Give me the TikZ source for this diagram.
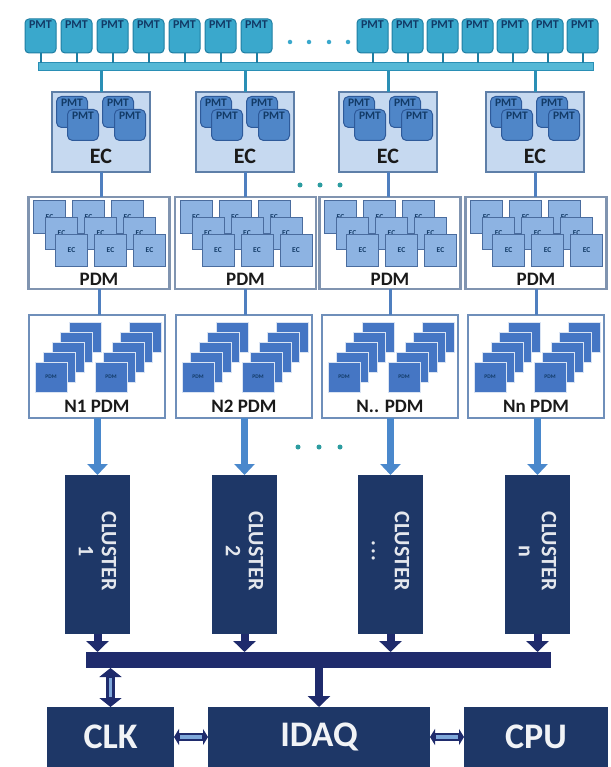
\documentclass[tikz,border=0pt]{standalone}
\usepackage{fontspec}
\setmainfont{Carlito}
\usetikzlibrary{arrows.meta,calc}
\definecolor{pmtfill}{HTML}{3AA8CC}
\definecolor{pmtedge}{HTML}{1E7EA3}
\definecolor{pmttext}{HTML}{123A66}
\definecolor{busone}{HTML}{55B8D6}
\definecolor{busoneedge}{HTML}{2A8FB5}
\definecolor{ecfill}{HTML}{C6D9F0}
\definecolor{ecedge}{HTML}{5E7FA8}
\definecolor{pmtsqfill}{HTML}{4F86C8}
\definecolor{pmtsqedge}{HTML}{2E5A9A}
\definecolor{ecsqfill}{HTML}{8DB3E2}
\definecolor{ecsqedge}{HTML}{4A6C9E}
\definecolor{pdmedge}{HTML}{8094B0}
\definecolor{npdmedge}{HTML}{6F8FBA}
\definecolor{pdmsqfill}{HTML}{4576C4}
\definecolor{connblue}{HTML}{4F7FBF}
\definecolor{arrblue}{HTML}{4A88CC}
\definecolor{navybox}{HTML}{1E3767}
\definecolor{navybus}{HTML}{1F2B6C}
\definecolor{lightbar}{HTML}{7FA8DA}
\definecolor{dotteal}{HTML}{2C9CA0}
\definecolor{labeltext}{HTML}{1A1A1A}
\begin{document}
\begin{tikzpicture}[x=1pt,y=-1pt,
  every node/.style={inner sep=0pt,outer sep=0pt},
  pmttop/.style={draw=pmtedge,fill=pmtfill,line width=1pt,rounded corners=4pt,
     minimum width=31pt,text height=8pt,text depth=22pt,inner ysep=2pt,
     font=\fontsize{12}{12}\selectfont\bfseries,text=pmttext},
  stem/.style={draw=pmtedge,line width=2pt},
  busonestyle/.style={draw=busoneedge,fill=busone,line width=1pt,minimum width=555pt,minimum height=8pt},
  drop/.style={draw=busoneedge,line width=3pt},
  ecbox/.style={draw=ecedge,fill=ecfill,line width=1.8pt,minimum width=98pt,minimum height=80pt},
  pmtsq/.style={draw=pmtsqedge,fill=pmtsqfill,line width=1pt,rounded corners=5pt,minimum width=31pt,
     text height=8pt,text depth=19pt,inner ysep=2pt,font=\fontsize{11.5}{11.5}\selectfont\bfseries,text=pmttext},
  biglabel/.style={font=\fontsize{22}{22}\selectfont\bfseries,text=labeltext},
  conn/.style={draw=connblue,line width=3pt},
  pdmbox/.style={draw=pdmedge,fill=white,line width=2.5pt,minimum width=141pt,minimum height=92pt},
  ecsq/.style={draw=ecsqedge,fill=ecsqfill,line width=1pt,minimum size=32pt,
     font=\fontsize{7.5}{7.5}\selectfont\bfseries,text=pmttext},
  midlabel/.style={font=\fontsize{19}{19}\selectfont\bfseries,text=labeltext},
  npdmbox/.style={draw=npdmedge,fill=white,line width=1.6pt,minimum width=136pt,minimum height=103pt},
  pdmsq/.style={draw=white!80!pdmsqfill,fill=pdmsqfill,line width=0.8pt,minimum width=32pt,minimum height=30pt,
     font=\fontsize{5.5}{5.5}\selectfont\bfseries,text=pmttext},
  bluearrow/.style={draw=arrblue,line width=7pt,-{Triangle[width=20pt,length=11pt]}},
  dotmark/.style={circle,fill=dotteal,minimum size=5pt},
  clbox/.style={fill=navybox,minimum width=65pt,minimum height=159pt},
  cltext/.style={rotate=-90,align=center,font=\fontsize{22}{23}\selectfont\bfseries,text=white!88!navybox},
  navyarrow/.style={draw=navybus,line width=8pt,-{Triangle[width=22pt,length=11pt]}},
  bustwo/.style={fill=navybus,minimum width=465pt,minimum height=16pt},
  bottombox/.style={fill=navybox,minimum height=60pt,font=\fontsize{36}{36}\selectfont\bfseries,text=white!94!navybox},
]
\fill[white] (0,0) rectangle (610,767);
\useasboundingbox (0,0) rectangle (610,767);

% ---- top row of PMTs and bus
\foreach \i in {0,...,6} {
  \node[pmttop] (pL\i) at ({40.5+36*\i},36) {PMT};
  \node[pmttop] (pR\i) at ({372.5+35*\i},36) {PMT};
}
\node[busonestyle] (bus1) at (315.5,67) {};
\foreach \i in {0,...,6} {
  \draw[stem] (pL\i.south) -- (pL\i.south |- bus1.north);
  \draw[stem] (pR\i.south) -- (pR\i.south |- bus1.north);
}
\foreach \x [count=\n] in {290,309,329,348}
  \node[dotmark,minimum size=4.5pt,fill=pmtfill] (td\n) at (\x,42) {};

% ---- EC boxes
\foreach \cx [count=\k] in {101,245,388,535} {
  \node[ecbox] (ec\k) at (\cx,132) {};
  \begin{scope}[shift={(\cx-49,92)}]
    \node[pmtsq] (ec\k pa) at (20,20) {PMT};
    \node[pmtsq] (ec\k pb) at (31,33) {PMT};
    \node[pmtsq] (ec\k pc) at (66,20) {PMT};
    \node[pmtsq] (ec\k pd) at (78,33) {PMT};
  \end{scope}
  \node[biglabel] (ec\k l) at (\cx,156) {EC};
  \draw[drop] (ec\k.north |- bus1.south) -- (ec\k.north);
}
\foreach \x [count=\n] in {300,320,340}
  \node[dotmark] (da\n) at (\x,185) {};

% ---- PDM boxes
\foreach \cx [count=\k] in {99,245.5,390,536} {
  \node[pdmbox] (pdm\k) at (\cx,243) {};
  \begin{scope}[shift={(\cx-70.5,197)}]
    \foreach \r/\dx/\dy in {0/5/4,1/17/20,2/27/37} {
      \foreach \c in {0,1,2} {
        \node[ecsq] (pdm\k s\r\c) at ({\dx+39*\c+16},{\dy+16}) {EC};
      }
    }
  \end{scope}
  \node[midlabel] (pdm\k l) at (\cx,279) {PDM};
  \draw[conn] (ec\k.south) -- (ec\k.south |- pdm\k.north);
}

% ---- N PDM boxes
\foreach \cx [count=\k] in {97,244,390,536} {
  \node[npdmbox] (npdm\k) at (\cx,366.5) {};
  \begin{scope}[shift={(\cx-68,315)}]
    \foreach \j in {4,3,2,1,0} {
      \node[pdmsq] (npdm\k a\j) at ({22+8.5*\j},{62-10*\j}) {PDM};
      \node[pdmsq] (npdm\k b\j) at ({82+8.5*\j},{62-10*\j}) {PDM};
    }
  \end{scope}
  \draw[conn] (pdm\k.south) -- (pdm\k.south |- npdm\k.north);
}
\node[midlabel] (npdm1l) at (97,406) {N1 PDM};
\node[midlabel] (npdm2l) at (244,406) {N2 PDM};
\node[midlabel] (npdm3l) at (390,406) {N.. PDM};
\node[midlabel] (npdm4l) at (536,406) {Nn PDM};

\foreach \x [count=\n] in {298,319,340}
  \node[dotmark] (db\n) at (\x,447) {};

% ---- clusters
\node[clbox] (cl1) at (97.5,554.5) {};
\node[clbox] (cl2) at (244.5,554.5) {};
\node[clbox] (cl3) at (390.5,554.5) {};
\node[clbox] (cl4) at (537.5,554.5) {};
\node[cltext] (cl1t) at (97.5,551) {CLUSTER\\1};
\node[cltext] (cl2t) at (244.5,551) {CLUSTER\\2};
\node[cltext] (cl3t) at (390.5,551) {CLUSTER\\.\hspace{2pt}.\hspace{2pt}.};
\node[cltext] (cl4t) at (537.5,551) {CLUSTER\\n};

% ---- bus 2 and bottom boxes
\node[bustwo] (bus2) at (318.5,660) {};
\node[bottombox,minimum width=127pt] (clk) at (110.5,737) {CLK};
\node[bottombox,minimum width=222pt] (idaq) at (319,737) {IDAQ};
\node[bottombox,minimum width=144pt] (cpu) at (536,737) {CPU};

\foreach \k in {1,2,3,4} {
  \draw[bluearrow] (cl\k.north |- npdm\k.south) -- (cl\k.north);
  \draw[navyarrow] (cl\k.south) -- (cl\k.south |- bus2.north);
}
\draw[navyarrow] (idaq.north |- bus2.south) -- (idaq.north);
\draw[draw=navybus,line width=9pt,{Triangle[width=22pt,length=9pt]}-{Triangle[width=22pt,length=9pt]}]
  (clk.north |- bus2.south) -- (clk.north);
\draw[draw=lightbar,line width=3.5pt] ($(clk.north |- bus2.south)+(0,10)$) -- ($(clk.north)+(0,-10)$);
\draw[draw=navybus,line width=8pt,{Triangle[width=16pt,length=5pt]}-{Triangle[width=16pt,length=5pt]}]
  (clk.east) -- (idaq.west);
\draw[draw=lightbar,line width=4pt] ($(clk.east)+(6,0)$) -- ($(idaq.west)+(-6,0)$);
\draw[draw=navybus,line width=8pt,{Triangle[width=16pt,length=5pt]}-{Triangle[width=16pt,length=5pt]}]
  (idaq.east) -- (cpu.west);
\draw[draw=lightbar,line width=4pt] ($(idaq.east)+(6,0)$) -- ($(cpu.west)+(-6,0)$);
\end{tikzpicture}
\end{document}
